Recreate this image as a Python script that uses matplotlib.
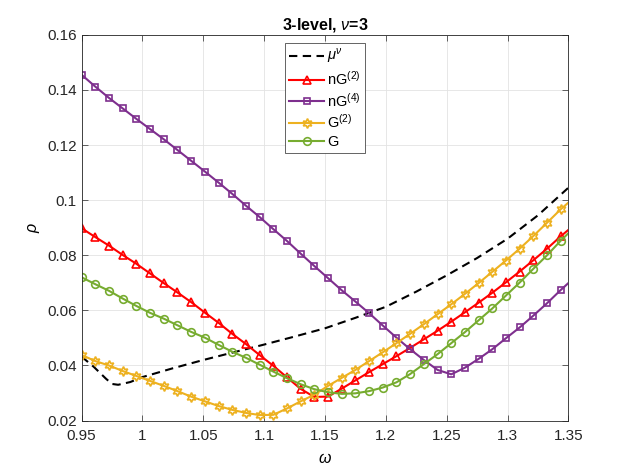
import numpy as np
import matplotlib
matplotlib.use("Agg")
import matplotlib.pyplot as plt

plt.rcParams['font.family'] = ['Liberation Sans', 'DejaVu Sans']
plt.rcParams['mathtext.fontset'] = 'custom'
plt.rcParams['mathtext.rm'] = 'Liberation Sans'
plt.rcParams['mathtext.it'] = 'Liberation Sans:italic'
plt.rcParams['mathtext.bf'] = 'Liberation Sans:bold'

# marker positions (every marker along omega), plus the line end at 1.35
omega = 0.95 + 0.01125 * np.arange(36)
omega_end = 1.35

nG2 = [0.0898, 0.0866, 0.0835, 0.0801, 0.0769, 0.0734, 0.0699, 0.0665, 0.0630, 0.0592,
       0.0555, 0.0515, 0.0478, 0.0438, 0.0399, 0.0357, 0.0315, 0.0286, 0.0287, 0.0316,
       0.0346, 0.0376, 0.0405, 0.0434, 0.0464, 0.0495, 0.0526, 0.0559, 0.0593, 0.0628,
       0.0664, 0.0702, 0.0741, 0.0782, 0.0824, 0.0869]
nG2_end = 0.0892

nG4 = [0.1455, 0.1412, 0.1371, 0.1333, 0.1295, 0.1258, 0.1221, 0.1182, 0.1143, 0.1104,
       0.1064, 0.1023, 0.0980, 0.0939, 0.0895, 0.0852, 0.0806, 0.0761, 0.0717, 0.0673,
       0.0632, 0.0590, 0.0545, 0.0501, 0.0459, 0.0420, 0.0384, 0.0368, 0.0392, 0.0424,
       0.0459, 0.0499, 0.0538, 0.0581, 0.0626, 0.0674]
nG4_end = 0.0699

G2 = [0.0438, 0.0416, 0.0400, 0.0380, 0.0362, 0.0344, 0.0326, 0.0307, 0.0287, 0.0270,
      0.0253, 0.0239, 0.0228, 0.0220, 0.0221, 0.0244, 0.0270, 0.0294, 0.0326, 0.0355,
      0.0384, 0.0416, 0.0448, 0.0481, 0.0515, 0.0550, 0.0586, 0.0622, 0.0660, 0.0699,
      0.0740, 0.0781, 0.0824, 0.0870, 0.0918, 0.0967]
G2_end = 0.0991

G = [0.0720, 0.0695, 0.0671, 0.0643, 0.0616, 0.0591, 0.0570, 0.0546, 0.0522, 0.0501,
     0.0475, 0.0450, 0.0428, 0.0403, 0.0378, 0.0354, 0.0332, 0.0314, 0.0303, 0.0297,
     0.0299, 0.0307, 0.0320, 0.0339, 0.0369, 0.0405, 0.0441, 0.0481, 0.0521, 0.0564,
     0.0607, 0.0654, 0.0701, 0.0751, 0.0800, 0.0853]
G_end = 0.0880

# mu^nu (dashed, no markers)
mu_x = [0.95, 0.96, 0.97, 0.975, 0.98, 0.99, 1.0, 1.025, 1.05, 1.075, 1.1, 1.125,
        1.15, 1.175, 1.2, 1.225, 1.25, 1.275, 1.3, 1.325, 1.35]
mu_y = [0.0432, 0.0395, 0.0352, 0.0333, 0.0330, 0.0340, 0.0358, 0.0390, 0.0420, 0.0448,
        0.0476, 0.0505, 0.0535, 0.0573, 0.0613, 0.0668, 0.0727, 0.0790, 0.0860, 0.0945,
        0.1045]

xticks = [0.95, 1.0, 1.05, 1.1, 1.15, 1.2, 1.25, 1.3, 1.35]
xticklabels = ['0.95', '1', '1.05', '1.1', '1.15', '1.2', '1.25', '1.3', '1.35']
yticks = [0.02, 0.04, 0.06, 0.08, 0.1, 0.12, 0.14, 0.16]
yticklabels = ['0.02', '0.04', '0.06', '0.08', '0.1', '0.12', '0.14', '0.16']

fig = plt.figure(figsize=(6.28, 4.71), dpi=100)
ax = fig.add_axes([0.13, 0.107, 0.775, 0.819])

xl = np.append(omega, omega_end)
marks = list(range(len(omega)))

ax.plot(mu_x, mu_y, 'k--', lw=1.5, dashes=(4, 2.6), label=r'$\mu^\nu$')
ax.plot(xl, np.append(nG2, nG2_end), color='#ff0000', lw=1.5, marker='^', ms=5.5,
        mfc='none', mew=1.2, markevery=marks, label=r'nG$^{\mathrm{(2)}}$')
ax.plot(xl, np.append(nG4, nG4_end), color='#7e2f8e', lw=1.5, marker='s', ms=4.8,
        mfc='none', mew=1.2, markevery=marks, label=r'nG$^{\mathrm{(4)}}$')
ax.plot(xl, np.append(G2, G2_end), color='#edb120', lw=1.5, marker=(6, 1, 0), ms=7,
        mfc='none', mew=1.2, markevery=marks, label=r'G$^{\mathrm{(2)}}$')
ax.plot(xl, np.append(G, G_end), color='#77ac30', lw=1.5, marker='o', ms=5.5,
        mfc='none', mew=1.2, markevery=marks, label='G')

ax.set_xlim(0.95, 1.35)
ax.set_ylim(0.02, 0.16)
ax.set_xticks(xticks)
ax.set_xticklabels(xticklabels)
ax.set_yticks(yticks)
ax.set_yticklabels(yticklabels)
ax.tick_params(direction='in', length=4, width=0.5, colors='#262626', labelsize=11,
               top=True, right=True)
ax.tick_params(axis='x', pad=6)
for s in ax.spines.values():
    s.set_color('#262626')
    s.set_linewidth(0.6)
ax.grid(True, color='#e3e3e3', lw=0.6)
ax.set_axisbelow(True)

ax.set_title(r'3-level, $\nu$=3', fontsize=11.5, fontweight='bold', pad=4)
ax.set_xlabel(r'$\omega$', fontsize=11.5, labelpad=6)
ax.set_ylabel(r'$\rho$', fontsize=11.5)

leg = ax.legend(loc='upper center', bbox_to_anchor=(0.5, 0.979), borderaxespad=0,
                fontsize=10.5, handlelength=2.4, handletextpad=0.2, labelspacing=0.25,
                borderpad=0.3, fancybox=False, framealpha=1, edgecolor='#262626')
leg.get_frame().set_linewidth(0.5)

fig.savefig('out.png', dpi=100, facecolor='white')
